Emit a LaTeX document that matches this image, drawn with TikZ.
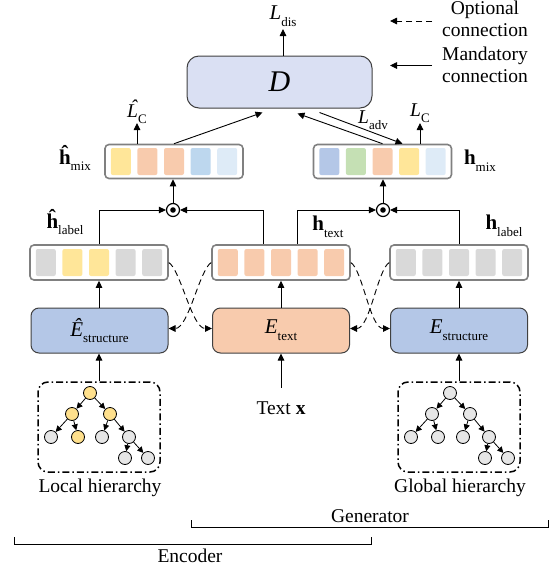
\documentclass[tikz,border=0pt]{standalone}
\usepackage{fontspec}
\setmainfont{Liberation Serif}
\usetikzlibrary{arrows.meta,calc}
\definecolor{dfill}{HTML}{DAE0F3}
\definecolor{encblue}{HTML}{B4C7E7}
\definecolor{encorange}{HTML}{F8CBAD}
\definecolor{cyellow}{HTML}{FFE699}
\definecolor{corange}{HTML}{F8CBAD}
\definecolor{cblue}{HTML}{BDD7EE}
\definecolor{clblue}{HTML}{DEEBF7}
\definecolor{cblueb}{HTML}{B4C7E7}
\definecolor{cgreen}{HTML}{C5E0B4}
\definecolor{cgray}{HTML}{D9D9D9}
\definecolor{tyellow}{HTML}{FFE08C}
\definecolor{tgray}{HTML}{E6E6E6}
\definecolor{boxgray}{HTML}{808080}
\definecolor{encborder}{HTML}{404040}
\newcommand\mysb[1]{\raisebox{-0.32em}{\fontsize{13}{13}\selectfont #1}}
\newcommand\hatL{\accent"02C6 L}
\begin{document}
\begin{tikzpicture}[x=1pt,y=-1pt,font=\fontsize{19.5}{22}\selectfont,
  arr/.style={-{Triangle[length=7pt,width=6.5pt]},line width=0.9pt},
  tarr/.style={-{Triangle[length=6pt,width=6pt]},line width=0.8pt},
  vecbox/.style={draw=boxgray,line width=1.6pt,rounded corners=4pt,minimum width=138pt,minimum height=34pt,inner sep=0pt},
  cell/.style={minimum width=20pt,minimum height=27pt,inner sep=0pt,rounded corners=2pt},
  enc/.style={draw=encborder,line width=1pt,rounded corners=8pt,minimum width=137pt,minimum height=45pt,inner sep=0pt},
  tn/.style={circle,draw=black,line width=0.8pt,minimum size=13pt,inner sep=0pt},
  treebox/.style={draw,line width=1.5pt,rounded corners=10pt,dash pattern=on 7pt off 3pt on 1.5pt off 3pt,minimum width=122pt,minimum height=90pt},
  odot/.style={circle,draw,line width=1.2pt,minimum size=13pt,inner sep=0pt},
  dsh/.style={dash pattern=on 6pt off 4pt}]
\useasboundingbox (0,0) rectangle (553,571);

% D box
\node[draw=encborder,line width=1pt,fill=dfill,rounded corners=12pt,minimum width=185pt,minimum height=52pt,inner sep=0pt] (D) at (279.5,82) {};
\node (Dl) at (279.5,82) {\fontsize{30}{30}\selectfont\itshape D};
\node[inner sep=0pt] (ldis) at (283,16) {\fontsize{21}{21}\selectfont\textit{L}\mysb{dis}};
\draw[arr] (D.north -| ldis.south) -- (ldis.south |- 0,29);

% legend
\node[align=center,inner sep=0pt] (lo) at (485,19) {Optional\\connection};
\node[align=center,inner sep=0pt] (lm) at (485,65) {Mandatory\\connection};
\coordinate (lo1) at (432,21); \coordinate (lo2) at (390,21);
\coordinate (lm1) at (432,65.5); \coordinate (lm2) at (390,65.5);
\draw[arr,dsh] (lo1) -- (lo2);
\draw[arr] (lm1) -- (lm2);

% mix boxes
\node[vecbox] (hmh) at (174,161.5) {};
\foreach \c [count=\i] in {cyellow,corange,corange,cblue,clblue}
  \node[cell,fill=\c] (hmh-\i) at ([xshift={(\i-3)*26.6pt}]hmh.center) {};
\node[vecbox] (hm) at (382.5,161.5) {};
\foreach \c [count=\i] in {cblueb,cgreen,corange,cyellow,clblue}
  \node[cell,fill=\c] (hm-\i) at ([xshift={(\i-3)*26.6pt}]hm.center) {};
\node[inner sep=0pt] (hmhl) at (75,158) {\fontsize{21}{21}\selectfont\textbf{ĥ}\mysb{mix}};
\node[inner sep=0pt] (hml) at (480,161) {\fontsize{21}{21}\selectfont\textbf{h}\mysb{mix}};

% losses
\node[inner sep=0pt] (lch) at (137,112) {\fontsize{19.5}{19.5}\selectfont\textit{\hatL}\mysb{C}};
\node[inner sep=0pt] (lc) at (420,113) {\fontsize{19.5}{19.5}\selectfont\textit{L}\mysb{C}};
\node[inner sep=0pt] (ladv) at (373,120) {\fontsize{19.5}{19.5}\selectfont\textit{L}\mysb{adv}};
\draw[arr] (hmh.north -| lch) -- (lch.south |- 0,123);
\draw[arr] (hm.north -| lc) -- (lc.south |- 0,123);
\draw[arr] (hmh.north) -- ($(D.south)+(-17,4)$);
\draw[arr] (hm.north) -- ($(D.south)+(18,5)$);
\draw[arr] ($(D.south)+(40,4)$) -- ([xshift=20pt]hm.north);

% vector boxes
\node[vecbox,minimum height=35pt] (hlh) at (99,262.5) {};
\foreach \c [count=\i] in {cgray,cyellow,cyellow,cgray,cgray}
  \node[cell,fill=\c] (hlh-\i) at ([xshift={(\i-3)*26.6pt}]hlh.center) {};
\node[vecbox,minimum height=35pt] (ht) at (281,262.5) {};
\foreach \c [count=\i] in {corange,corange,corange,corange,corange}
  \node[cell,fill=\c] (ht-\i) at ([xshift={(\i-3)*26.6pt}]ht.center) {};
\node[vecbox,minimum height=35pt] (hl) at (459,262.5) {};
\foreach \c [count=\i] in {cgray,cgray,cgray,cgray,cgray}
  \node[cell,fill=\c] (hl-\i) at ([xshift={(\i-3)*26.6pt}]hl.center) {};
\node[inner sep=0pt] (hlhl) at (65,222) {\fontsize{21}{21}\selectfont\textbf{ĥ}\mysb{label}};
\node[inner sep=0pt] (htl) at (328,227) {\fontsize{21}{21}\selectfont\textbf{h}\mysb{text}};
\node[inner sep=0pt] (hll) at (504,226) {\fontsize{21}{21}\selectfont\textbf{h}\mysb{label}};

% odots
\node[odot] (o1) at (173,210) {};
\fill (o1.center) circle (2.8pt);
\node[odot] (o2) at (383,210) {};
\fill (o2.center) circle (2.8pt);
\draw[arr] (o1.north) -- (o1.north |- hmh.south);
\draw[arr] (o2.north) -- (o2.north |- hm.south);
\draw[arr] (hlh.north) |- (o1.west);
\draw[arr] ([xshift=-18pt]ht.north) |- (o1.east);
\draw[arr] ([xshift=16pt]ht.north) |- (o2.west);
\draw[arr] (hl.north) |- (o2.east);

% encoders
\node[enc,fill=encblue] (ehs) at (99.5,330.5) {\fontsize{21}{21}\selectfont\textit{Ê}\mysb{structure}};
\node[enc,fill=encorange] (et) at (281,330.5) {\fontsize{21}{21}\selectfont\textit{E}\mysb{text}};
\node[enc,fill=encblue] (es) at (459,330.5) {\fontsize{21}{21}\selectfont\textit{E}\mysb{structure}};
\draw[arr] (ehs.north -| hlh) -- (hlh.south);
\draw[arr] (et.north) -- (ht.south);
\draw[arr] (es.north) -- (hl.south);

% dashed crossings
\draw[arr,dsh] (hlh.east) .. controls +(12,8) and +(-20,0) .. ([yshift=2pt]et.west);
\draw[arr,dsh] (ht.west) .. controls +(-12,8) and +(20,0) .. ([yshift=2pt]ehs.east);
\draw[arr,dsh] (ht.east) .. controls +(12,8) and +(-20,0) .. ([yshift=2pt]es.west);
\draw[arr,dsh] (hl.west) .. controls +(-12,8) and +(20,0) .. ([yshift=2pt]et.east);

% inputs
\node[treebox] (tbl) at (99,427) {};
\node[treebox] (tbg) at (459,427) {};
\node (tx) at (281,408) {Text \textbf{x}};
\draw[arr] (tbl.north) -- (ehs.south -| tbl);
\draw[arr] (tbg.north) -- (es.south);
\draw[arr] ([yshift=10pt]tx.north) -- (et.south);
\node (lhl) at (100,488) {Local hierarchy};
\node (ghl) at (460,488) {Global hierarchy};

% local tree
\node[tn,fill=tyellow] (a0) at (90,393) {};
\node[tn,fill=tyellow] (a1) at (72,414) {};
\node[tn,fill=tyellow] (a2) at (110,414) {};
\node[tn,fill=tgray] (a3) at (51,437) {};
\node[tn,fill=tyellow] (a4) at (78,437) {};
\node[tn,fill=tgray] (a5) at (102,437) {};
\node[tn,fill=tgray] (a6) at (129,437) {};
\node[tn,fill=tgray] (a7) at (125,458) {};
\node[tn,fill=tgray] (a8) at (148,458) {};
\foreach \p/\q in {a0/a1,a0/a2,a1/a3,a1/a4,a2/a5,a2/a6,a6/a7,a6/a8}
  \draw[tarr] (\p) -- (\q);

% global tree
\node[tn,fill=tgray] (b0) at (450,393) {};
\node[tn,fill=tgray] (b1) at (432,414) {};
\node[tn,fill=tgray] (b2) at (470,414) {};
\node[tn,fill=tgray] (b3) at (411,437) {};
\node[tn,fill=tgray] (b4) at (438,437) {};
\node[tn,fill=tgray] (b5) at (463,437) {};
\node[tn,fill=tgray] (b6) at (489,437) {};
\node[tn,fill=tgray] (b7) at (485,458) {};
\node[tn,fill=tgray] (b8) at (508,458) {};
\foreach \p/\q in {b0/b1,b0/b2,b1/b3,b1/b4,b2/b5,b2/b6,b6/b7,b6/b8}
  \draw[tarr] (\p) -- (\q);

% brackets
\coordinate (g1) at (191,520); \coordinate (g2) at (548,520);
\coordinate (e1) at (14,537); \coordinate (e2) at (371,537);
\draw[line width=0.9pt] (g1) -- ++(0,7) -| (g2);
\draw[line width=0.9pt] (e1) -- ++(0,7) -| (e2);
\node (gen) at (370,516) {Generator};
\node (encl) at (190,556) {Encoder};
\end{tikzpicture}
\end{document}
